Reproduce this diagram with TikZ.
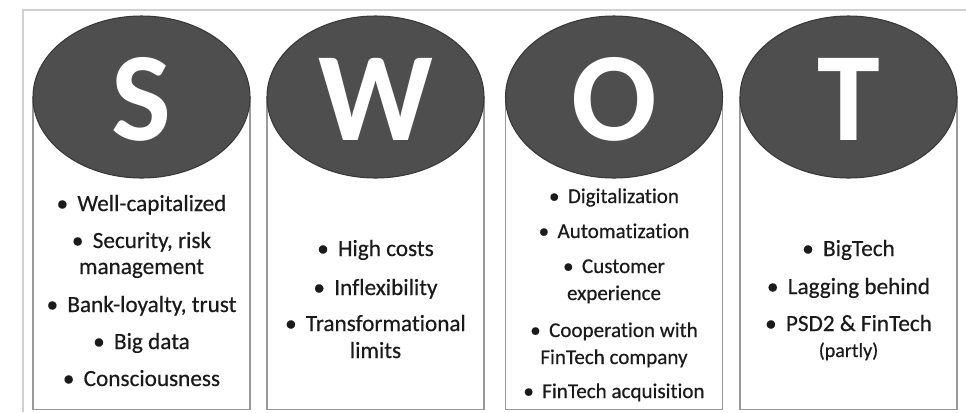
\documentclass[tikz,border=0pt]{standalone}
\usepackage{fontspec}
\setmainfont{Carlito}[Ligatures=NoCommon]
\newfontfamily\listfont{Carlito}[Ligatures=NoCommon, FakeBold=0.4]
\usepackage{xcolor}
\usepackage{tikz}
\usetikzlibrary{shapes.geometric,positioning}

\definecolor{capfill}{HTML}{4E4E4E}
\definecolor{capline}{HTML}{383838}
\definecolor{boxline}{HTML}{999999}
\definecolor{frameline}{HTML}{D0D0D0}
\definecolor{itemtext}{HTML}{1A1A1A}

\newcommand{\itm}{\textbullet\hspace{0.4em}}
\newcommand{\smallitm}{\fontsize{15}{15}\selectfont}

\begin{document}
\begin{tikzpicture}[x=0.75pt,y=-0.75pt,
  colbox/.style={draw=boxline, line width=0.8pt, fill=white, minimum width=162.75pt, minimum height=234pt, inner sep=0pt, anchor=north},
  lettercap/.style={ellipse, draw=capline, line width=0.8pt, fill=capfill, minimum width=162.75pt, minimum height=121.5pt, inner sep=0pt},
  letter/.style={text=white, font=\fontsize{95}{95}\selectfont\bfseries, inner sep=0pt},
  item/.style={anchor=base, inner sep=0pt, text=itemtext, font=\listfont\fontsize{17.4}{17.4}\selectfont},
  smallitem/.style={item, font=\listfont\fontsize{15.8}{15.8}\selectfont}
]
\useasboundingbox (0,0) rectangle (966,412);

% Column centres
\def\xs{141.5} \def\xw{375.5} \def\xo{614} \def\xt{848.5}
\def\ytop{97}

% Frame
\draw[frameline, line width=1.1pt] (23,412) -- (23,10) -- (966,10);

% Boxes and letter caps
\foreach \x/\l/\n in {\xs/S/s, \xw/W/w, \xo/O/o, \xt/T/t} {
  \node[colbox] (\n box) at (\x,\ytop) {};
  \node[lettercap] (\n cap) at (\x,\ytop) {};
  \node[letter] (\n letter) at (\x,\ytop+2) {\l};
}

% Strengths
\foreach \txt/\y [count=\i] in {{\itm Well-capitalized}/211, {\itm Security, risk}/248,
    {management}/274, {\itm Bank-loyalty, trust}/312, {\itm Big data}/349, {\itm Consciousness}/386}
  \node[item] (s\i) at (\xs,\y) {\txt};

% Weaknesses
\foreach \txt/\y [count=\i] in {{\itm High costs}/256, {\itm Inflexibility}/295,
    {\itm Transformational}/331, {limits}/358}
  \node[item] (w\i) at (\xw,\y) {\txt};

% Opportunities
\foreach \txt/\y [count=\i] in {{\itm Digitalization}/203, {\itm Automatization}/238,
    {\itm Customer}/273, {experience}/300, {\itm Cooperation with}/337,
    {FinTech company}/364, {\itm FinTech acquisition}/398}
  \node[smallitem] (o\i) at (\xo,\y) {\txt};

% Threats
\foreach \txt/\y [count=\i] in {{\itm BigTech}/256, {\itm Lagging behind}/294,
    {\itm PSD2 \& FinTech}/331, {\smallitm (partly)}/357}
  \node[item] (t\i) at (\xt,\y) {\txt};
\end{tikzpicture}
\end{document}
